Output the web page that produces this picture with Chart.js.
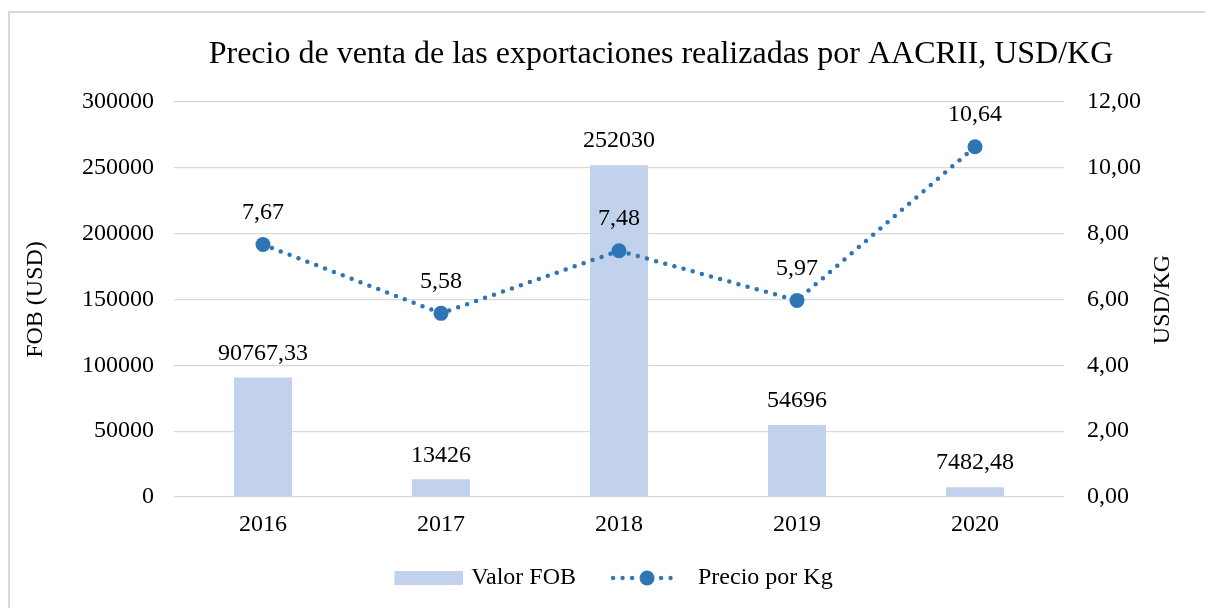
<!DOCTYPE html>
<html>
<head>
<meta charset="utf-8">
<title>Precio de venta AACRII</title>
<script src="https://cdn.jsdelivr.net/npm/chart.js@4"></script>
<style>
    html, body { margin: 0; padding: 0; background: #fff; }
    #wrap { position: relative; width: 1205px; height: 608px; overflow: hidden; }
    #frame { position: absolute; left: 8px; top: 11px; width: 1220px; height: 620px; border: 2px solid #d9d9d9; box-sizing: border-box; pointer-events: none; }
</style>
</head>
<body>
<div id="wrap">
    <canvas id="mainChart" width="1205" height="608"></canvas>
    <div id="frame"></div>
</div>
<script>
const years = ['2016', '2017', '2018', '2019', '2020'];
const valorFob = [90767.33, 13426, 252030, 54696, 7482.48];
const precioKg = [7.67, 5.58, 7.48, 5.97, 10.64];

const chartTitle = 'Precio de venta de las exportaciones realizadas por AACRII, USD/KG';
const leftTitle = 'FOB (USD)';
const rightTitle = 'USD/KG';
const legendNames = ['Valor FOB', 'Precio por Kg'];

const BAR_COLOR = '#c3d2ec';
const LINE_COLOR = '#2e75b6';
const FONT = "'Liberation Serif', 'Times New Roman', serif";
const FS = 24;
const SYM_W = 87;

Chart.defaults.font.family = FONT;
Chart.defaults.font.size = FS;
Chart.defaults.color = '#000';

const comma = v => String(v).replace('.', ',');
const comma2 = v => v.toFixed(2).replace('.', ',');

// legend symbols (drawn wider than the box so the gaps look like Excel's)
function barSymbol() {
    const c = document.createElement('canvas');
    c.width = SYM_W + 8; c.height = 14;
    const g = c.getContext('2d');
    g.fillStyle = BAR_COLOR;
    g.fillRect(c.width - 69, 0, 69, 14);
    return c;
}

function lineSymbol() {
    const c = document.createElement('canvas');
    c.width = SYM_W; c.height = 18;
    const g = c.getContext('2d');
    g.fillStyle = LINE_COLOR;
    const x0 = 11;
    [3, 12.5, 22, 51, 60.5].forEach(x => {
        g.beginPath(); g.arc(x0 + x, 9, 2.2, 0, Math.PI * 2); g.fill();
    });
    g.beginPath(); g.arc(x0 + 37, 9, 7.5, 0, Math.PI * 2); g.fill();
    return c;
}

const valueLabels = {
    id: 'valueLabels',
    afterDatasetsDraw(chart) {
        const ctx = chart.ctx;
        ctx.save();
        ctx.font = FS + 'px ' + FONT;
        ctx.fillStyle = '#000';
        ctx.textAlign = 'center';
        ctx.textBaseline = 'middle';
        chart.getDatasetMeta(0).data.forEach((bar, i) => {
            ctx.fillText(comma(valorFob[i]), bar.x, bar.y - 24);
        });
        chart.getDatasetMeta(1).data.forEach((pt, i) => {
            ctx.fillText(comma2(precioKg[i]), pt.x, pt.y - 32);
        });
        ctx.restore();
    }
};

const extraText = {
    id: 'extraText',
    afterDraw(chart) {
        const ctx = chart.ctx;
        ctx.save();
        ctx.fillStyle = '#000';
        ctx.textAlign = 'center';
        ctx.textBaseline = 'middle';
        ctx.font = '32px ' + FONT;
        ctx.fillText(chartTitle, 661, 55);
        ctx.font = FS + 'px ' + FONT;
        ctx.translate(1163, (chart.chartArea.top + chart.chartArea.bottom) / 2);
        ctx.rotate(-Math.PI / 2);
        ctx.fillText(rightTitle, 0, 0);
        ctx.restore();
    }
};

const ctx = document.getElementById('mainChart').getContext('2d');
const mainChart = new Chart(ctx, {
    data: {
        labels: years,
        datasets: [
            {
                type: 'bar',
                label: legendNames[0],
                data: valorFob,
                backgroundColor: BAR_COLOR,
                barPercentage: 0.326,
                categoryPercentage: 1,
                yAxisID: 'y',
                order: 2
            },
            {
                type: 'line',
                label: legendNames[1],
                data: precioKg,
                borderColor: LINE_COLOR,
                backgroundColor: LINE_COLOR,
                borderWidth: 4.5,
                borderDash: [0, 9.5],
                borderCapStyle: 'round',
                pointRadius: 7.5,
                pointHoverRadius: 7.5,
                pointBorderWidth: 0,
                tension: 0,
                yAxisID: 'y1',
                order: 1
            }
        ]
    },
    options: {
        responsive: false,
        animation: false,
        layout: { padding: { top: 102, left: 0, right: 0, bottom: 8 } },
        plugins: {
            title: { display: false },
            tooltip: { enabled: false },
            legend: {
                position: 'bottom',
                labels: {
                    usePointStyle: true,
                    pointStyleWidth: SYM_W,
                    padding: 23,
                    color: '#000',
                    font: { size: FS },
                    generateLabels: () => [
                        { text: legendNames[0], pointStyle: barSymbol(), datasetIndex: 0, hidden: false, lineWidth: 0, strokeStyle: 'transparent', fillStyle: 'transparent', fontColor: '#000' },
                        { text: legendNames[1], pointStyle: lineSymbol(), datasetIndex: 1, hidden: false, lineWidth: 0, strokeStyle: 'transparent', fillStyle: 'transparent', fontColor: '#000' }
                    ]
                }
            }
        },
        scales: {
            x: {
                grid: { display: false },
                border: { display: false },
                ticks: { padding: 5, maxRotation: 0 },
                afterFit: s => { s.height = 46; }
            },
            y: {
                position: 'left',
                min: 0,
                max: 300000,
                ticks: { stepSize: 50000, padding: 20, callback: v => String(v) },
                grid: { color: '#d9d9d9', lineWidth: 1.3, drawTicks: false },
                border: { display: false },
                title: { display: true, text: leftTitle, padding: { top: 21, bottom: 0 } },
                afterFit: s => { s.width = 174; }
            },
            y1: {
                position: 'right',
                min: 0,
                max: 12,
                ticks: { stepSize: 2, padding: 23, callback: v => comma2(v) },
                grid: { display: false, drawTicks: false },
                border: { display: false },
                afterFit: s => { s.width = 141; }
            }
        }
    },
    plugins: [valueLabels, extraText]
});
</script>
</body>
</html>
